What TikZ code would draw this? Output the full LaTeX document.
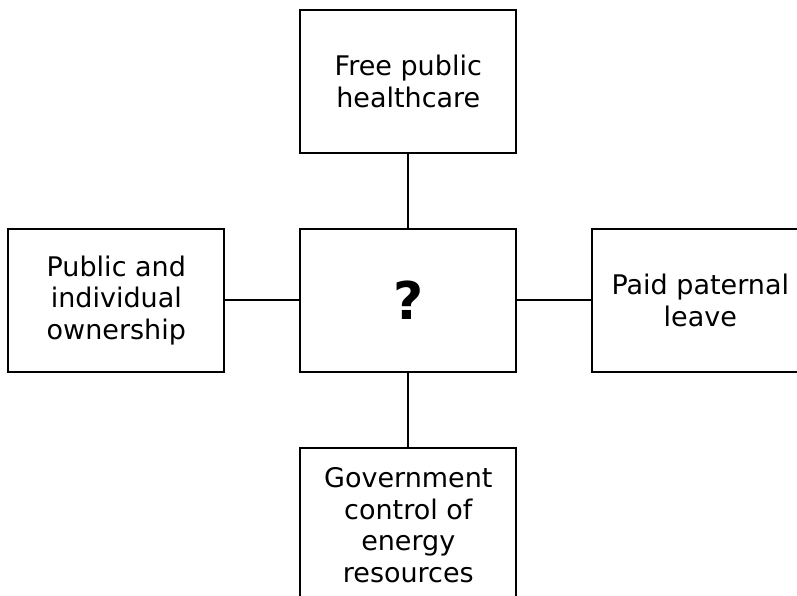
\documentclass[tikz,border=0pt]{standalone}
\usepackage{fontspec}
\setmainfont{DejaVu Sans}
\usetikzlibrary{positioning}

\begin{document}
\begin{tikzpicture}[
      x=1pt, y=-1pt,
      node distance=74pt and 74pt,
      topic/.style={draw, line width=2pt, minimum width=216pt,
                    minimum height=143pt, align=center,
                    font=\fontsize{27}{31.7}\selectfont},
      link/.style={line width=2pt},
    ]
    \useasboundingbox (0,0) rectangle (797,596);
    \clip (0,0) rectangle (797,596);

    % Centre box
    \node[topic, font=\fontsize{52}{60}\selectfont\bfseries] (what) at (408.3,300.3) {?};

    % Surrounding boxes
    \node[topic, above=of what] (health)
      {Free public\\healthcare};
    \node[topic, left=of what] (owner)
      {Public and\\individual\\ownership};
    \node[topic, right=of what] (leave)
      {Paid paternal\\leave};
    \node[topic, below=of what, minimum height=155pt] (energy)
      {Government\\control of\\energy\\resources};

    % Links to the centre
    \draw[link] (health) -- (what);
    \draw[link] (owner)  -- (what);
    \draw[link] (leave)  -- (what);
    \draw[link] (energy) -- (what);
  \end{tikzpicture}
\end{document}
